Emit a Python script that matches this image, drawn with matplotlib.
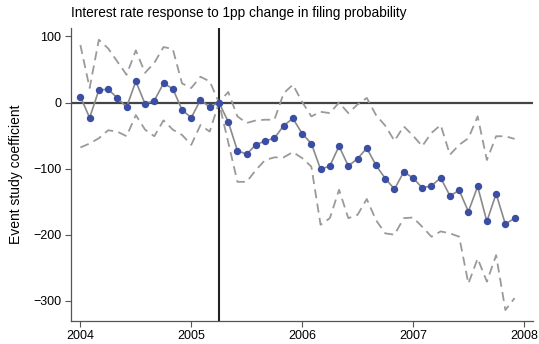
import numpy as np
import matplotlib
matplotlib.use("Agg")
import matplotlib.pyplot as plt

plt.rcParams["font.family"] = ["Liberation Sans", "DejaVu Sans"]

# monthly event-study estimates, Jan 2004 .. Dec 2007 (month index 0 = Jan 2004)
months = np.arange(48)
coef = [9, -23, 19, 20, 7, -7, 32, -2, 3, 29, 21, -11, -23, 4, -7, 0,
        -29, -73, -78, -64, -58, -54, -35, -24, -47, -62, -101, -96, -66, -96, -85, -69, -95, -115,
        -131, -105, -114, -129, -126, -114, -141, -133, -165, -127, -180, -138, -184, -175]
upper = [87, 22, 95, 82, 62, 42, 79, 45, 60, 84, 81, 29, 22, 39, 32, 0,
         16, -21, -31, -27, -26, -26, 14, 27, 1, -21, -14, -16, 0, -16, -3, 7, -19, -35,
         -58, -36, -50, -66, -46, -34, -79, -64, -54, -21, -87, -51, -51, -55]
lower = [-68, -62, -54, -42, -44, -51, -19, -41, -51, -27, -41, -49, -64, -34, -44, 0,
         -60, -120, -120, -102, -87, -83, -83, -75, -84, -97, -185, -175, -132, -175, -170, -146, -178, -198,
         -200, -175, -174, -188, -203, -195, -198, -203, -274, -236, -271, -231, -314, -296]
year_ticks = [0, 12, 24, 36, 48]
year_labels = ["2004", "2005", "2006", "2007", "2008"]
event_month = 15  # April 2005

fig = plt.figure(figsize=(5.39, 3.44), dpi=100)
ax = fig.add_axes([0.132, 0.068, 0.857, 0.851])

ax.axhline(0, color="#444444", lw=1.6, zorder=1)
ax.axvline(event_month, color="#222222", lw=1.5, zorder=1)

ax.plot(months, upper, color="#9a9a9a", lw=1.3, ls=(0, (5, 3)), zorder=2)
ax.plot(months, lower, color="#9a9a9a", lw=1.3, ls=(0, (5, 3)), zorder=2)
ax.plot(months, coef, color="#8a8a8a", lw=1.2, marker="o", ms=4.3,
        mfc="#3a4ea3", mec="#3a4ea3", zorder=3)

ax.set_xlim(-1, 49)
ax.set_ylim(-330, 113)
ax.set_xticks(year_ticks)
ax.set_xticklabels(year_labels)
ax.set_yticks([100, 0, -100, -200, -300])

for s in ["top", "right"]:
    ax.spines[s].set_visible(False)
for s in ["left", "bottom"]:
    ax.spines[s].set_color("#555555")
    ax.spines[s].set_linewidth(0.9)
ax.tick_params(axis="both", labelsize=9, color="#555555", length=4, width=0.8, pad=3)

ax.set_ylabel("Event study coefficient", fontsize=10, labelpad=7)
ax.set_title("Interest rate response to 1pp change in filing probability",
             fontsize=9.8, loc="left", pad=8)

fig.savefig("out.png", dpi=100)
